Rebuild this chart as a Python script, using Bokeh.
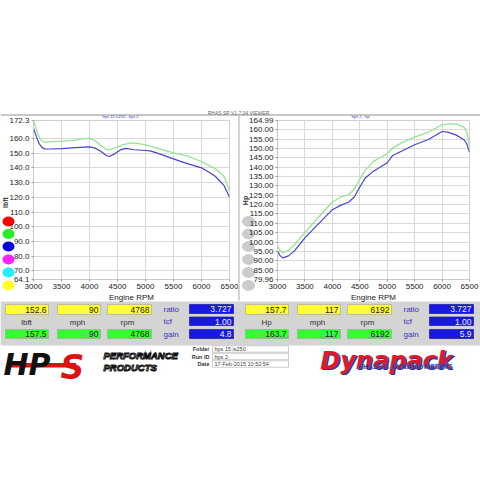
import math
from bokeh.plotting import figure
from bokeh.models import Range1d, FixedTicker, PrintfTickFormatter, GridBox
from bokeh.core.properties import value
from bokeh.embed import file_html
from bokeh.resources import INLINE

# ---------------- data ----------------
rpm_ticks = [3000, 3500, 4000, 4500, 5000, 5500, 6000, 6500]
tq_ticks = [64.1, 70, 80, 90, 100, 110, 120, 130, 140, 150, 160, 172.3]
hp_ticks = [79.96, 85, 90, 95, 100, 105, 110, 115, 120, 125, 130, 135, 140, 145, 150, 155, 160, 164.99]

tq_rpm_base = [3000, 3050, 3100, 3150, 3200, 3300, 3500, 3750, 4000, 4100, 4200, 4300, 4350, 4450,
               4550, 4650, 4800, 5000, 5100, 5250, 5500, 5600, 5750, 6000, 6150, 6250, 6400, 6500]
tq_base = [167.1, 161.5, 156.5, 154.0, 153.0, 152.9, 153.2, 153.8, 154.4, 153.5, 151.4, 148.5, 147.8, 149.6,
           152.3, 153.3, 152.4, 151.9, 151.5, 149.6, 146.2, 144.8, 143.0, 140.1, 136.8, 134.2, 128.2, 120.0]
tq_rpm_gain = [3000, 3050, 3100, 3150, 3200, 3300, 3500, 3750, 3900, 4000, 4100, 4200, 4300, 4350,
               4450, 4600, 4750, 4850, 5000, 5250, 5500, 5750, 6000, 6250, 6400, 6500]
tq_gain = [172.3, 166.6, 161.0, 158.5, 157.5, 157.8, 158.2, 158.9, 159.9, 160.2, 158.6, 155.5, 152.6, 152.3,
           153.5, 155.9, 157.0, 156.8, 155.7, 153.0, 150.3, 148.0, 144.4, 139.4, 134.5, 124.2]

hp_rpm_base = [3000, 3050, 3100, 3200, 3300, 3500, 3750, 4000, 4150, 4300, 4400, 4500, 4600, 4750,
               5000, 5100, 5250, 5500, 5750, 6000, 6100, 6250, 6400, 6450, 6500]
hp_base = [95.2, 92.6, 91.5, 92.6, 95.0, 102.2, 109.8, 117.3, 119.6, 121.4, 124.1, 129.4, 134.2, 137.9,
           142.4, 146.3, 148.4, 152.0, 154.8, 159.1, 158.8, 157.3, 154.7, 152.5, 148.1]
hp_rpm_gain = [3000, 3050, 3100, 3200, 3300, 3500, 3750, 4000, 4150, 4300, 4400, 4500, 4600, 4750,
               5000, 5100, 5250, 5500, 5750, 6000, 6100, 6250, 6400, 6450, 6500]
hp_gain = [98.3, 95.2, 94.3, 95.6, 98.3, 105.0, 113.4, 121.4, 124.1, 125.3, 128.5, 133.5, 138.3, 143.1,
           147.2, 150.2, 152.9, 156.1, 158.8, 162.7, 163.0, 163.2, 161.5, 159.0, 151.1]

left_top_vals = ["152.6", "90", "4768"]
left_bot_vals = ["157.5", "90", "4768"]
left_units = ["lbft", "mph", "rpm"]
right_top_vals = ["157.7", "117", "6192"]
right_bot_vals = ["163.7", "117", "6192"]
right_units = ["Hp", "mph", "rpm"]
factor_names = ["ratio", "tcf", "gain"]
left_factors = ["3.727", "1.00", "4.8"]
right_factors = ["3.727", "1.00", "5.9"]

trace_colors = ["#ff0000", "#22ee22", "#0000dd", "#ff22ff", "#22eeff", "#ffff22"]
info_labels = ["Folder", "Run ID", "Date"]
info_values = ["hps 15 is250", "hps 2", "17-Feb-2015  10:52:54"]

F = value("Liberation Sans")
FD = value("DejaVu Sans")

W = 480
H = 480

# ---------------- background canvas (page pixels) ----------------
bg = figure(width=W, height=H, x_range=Range1d(0, W), y_range=Range1d(H, 0),
            output_backend="svg", toolbar_location=None, x_axis_type=None, y_axis_type=None,
            title=None, min_border=0)
bg.outline_line_color = None
bg.background_fill_color = "white"
bg.border_fill_color = "white"

# top bar and separator
bg.segment(x0=[0], y0=[114.5], x1=[480], y1=[114.5], line_color="#b4b4b4", line_width=1.5)
bg.segment(x0=[238.5], y0=[114], x1=[238.5], y1=[300], line_color="#c4c4c4", line_width=1.5)
bg.text(x=[238], y=[112.3], text=["RHAS SP V1.7.04 VIEWER"], text_font=F, text_font_size="5px",
        text_color="#666666", text_align="center", text_baseline="middle")
bg.text(x=[120, 360], y=[115.8, 115.8], text=["hps 15 is250 - hps 2", "hps 2 - hp"], text_font=F,
        text_font_size="4px", text_color="#3333cc", text_align="center", text_baseline="middle")

# trace selector dots
dot_y = [221, 233.5, 246, 259, 272, 285]
bg.ellipse(x=[8] * 6, y=dot_y, width=12, height=10, fill_color=trace_colors, line_color=None)
bg.ellipse(x=[248] * 6, y=dot_y, width=12, height=10, fill_color="#cccccc", line_color="#b8b8b8",
           line_width=0.6)
bg.text(x=[4.5, 245], y=[202, 200], text=["lbft", "Hp"], angle=math.pi / 2, text_font=F,
        text_font_size="7px", text_font_style="bold", text_color="#333333",
        text_align="center", text_baseline="middle")

# info panel
bg.quad(left=[0], right=[480], top=[301], bottom=[345], fill_color="#d4d4d4", line_color=None)
box_x = [(5, 48), (57, 100), (107, 151)]
for off, top_vals, bot_vals, units, facs in [(0, left_top_vals, left_bot_vals, left_units, left_factors),
                                              (240, right_top_vals, right_bot_vals, right_units, right_factors)]:
    lefts = [a + off for a, b in box_x]
    rights = [b + off for a, b in box_x]
    bg.quad(left=lefts, right=rights, top=[304] * 3, bottom=[314] * 3, fill_color="#ffff33",
            line_color="#a0a0a0", line_width=0.6)
    bg.quad(left=lefts, right=rights, top=[329] * 3, bottom=[338] * 3, fill_color="#33ff33",
            line_color="#a0a0a0", line_width=0.6)
    bg.text(x=[r - 2 for r in rights], y=[309.3] * 3, text=top_vals, text_font=F, text_font_size="8.5px",
            text_color="#222222", text_align="right", text_baseline="middle")
    bg.text(x=[r - 2 for r in rights], y=[333.8] * 3, text=bot_vals, text_font=F, text_font_size="8.5px",
            text_color="#222222", text_align="right", text_baseline="middle")
    bg.text(x=[26 + off, 77 + off, 127 + off], y=[322] * 3, text=units, text_font=F, text_font_size="8px",
            text_color="#333333", text_align="center", text_baseline="middle")
    bg.quad(left=[189 + off] * 3, right=[233 + off] * 3, top=[304, 316.5, 329], bottom=[313, 325, 338],
            fill_color="#1818e0", line_color="#0a0a90", line_width=0.6)
    bg.text(x=[231 + off] * 3, y=[308.8, 321, 333.7], text=facs, text_font=F, text_font_size="8.5px",
            text_color="#f0f0f0", text_align="right", text_baseline="middle")
    bg.text(x=[163 + off] * 3, y=[309, 321, 334], text=factor_names, text_font=F, text_font_size="8px",
            text_color="#3333bb", text_align="left", text_baseline="middle")

# HPS logo
bg.patch(x=[7, 76, 74, 5], y=[362.5, 362.5, 367, 367], fill_color="#dd1111", line_color=None)
bg.text(x=[3], y=[364], text=["HP"], text_font=FD, text_font_size="30px", text_font_style="bold italic",
        text_color="#111111", text_align="left", text_baseline="alphabetic")
bg.text(x=[60], y=[366.5], text=["S"], text_font=FD, text_font_size="33px", text_font_style="bold italic",
        text_color="#e01010", text_align="left", text_baseline="alphabetic")
bg.text(x=[103, 103], y=[355, 367], text=["PERFORMANCE", "PRODUCTS"], text_font=F,
        text_font_size="9.5px", text_font_style="bold italic", text_color="#e8e8e8",
        text_outline_color="#111111", text_align="left", text_baseline="alphabetic")

# run info
bg.text(x=[209] * 3, y=[348.5, 356, 363.5], text=info_labels, text_font=F, text_font_size="5.5px",
        text_font_style="bold", text_color="#333333", text_align="right", text_baseline="middle")
bg.quad(left=[212] * 3, right=[288] * 3, top=[345.3, 352.8, 360.3], bottom=[351.7, 359.2, 366.7],
        fill_color="white", line_color="#aaaaaa", line_width=0.6)
bg.text(x=[214] * 3, y=[348.5, 356, 363.5], text=info_values, text_font=F, text_font_size="5.5px",
        text_color="#444444", text_align="left", text_baseline="middle")

# Dynapack logo
bg.text(x=[387.5], y=[361.5], text=["Dynapack"], text_font=FD, text_font_size="24px",
        text_font_style="bold italic", text_color="#1a3a9a", text_align="center", text_baseline="alphabetic")
bg.text(x=[386], y=[360], text=["Dynapack"], text_font=FD, text_font_size="24px",
        text_font_style="bold italic", text_color="#dd1a2a", text_align="center", text_baseline="alphabetic")
bg.text(x=[405], y=[366.5], text=["CHASSIS DYNAMOMETERS"], text_font=FD, text_font_size="6.5px",
        text_font_style="bold", text_color="#2a4aaa", text_align="center", text_baseline="middle")


# ---------------- charts ----------------
def make_chart(w, bl, br, xb, yb, xg, yg, yticks, fmt):
    p = figure(width=w, height=192, title=None, x_range=Range1d(3000, 6500),
               y_range=Range1d(yticks[0], yticks[-1]), output_backend="svg", toolbar_location=None,
               min_border_left=bl, min_border_right=br, min_border_top=8, min_border_bottom=25)
    p.border_fill_color = None
    p.background_fill_color = "white"
    p.outline_line_color = "#d0d0d0"
    p.xaxis.ticker = FixedTicker(ticks=rpm_ticks)
    p.yaxis.ticker = FixedTicker(ticks=yticks)
    p.yaxis.formatter = PrintfTickFormatter(format=fmt)
    for ax in (p.xaxis[0], p.yaxis[0]):
        ax.major_label_text_font = "Liberation Sans"
        ax.major_label_text_font_size = "8px"
        ax.major_label_text_color = "#222222"
        ax.axis_line_color = "#c8c8c8"
        ax.major_tick_line_color = "#999999"
        ax.major_tick_in = 0
        ax.major_tick_out = 2
        ax.major_label_standoff = 2
    p.xaxis.axis_label = "Engine RPM"
    p.xaxis.axis_label_text_font = "Liberation Sans"
    p.xaxis.axis_label_text_font_size = "8px"
    p.xaxis.axis_label_text_font_style = "normal"
    p.xaxis.axis_label_text_color = "#222222"
    p.xaxis.axis_label_standoff = 1
    p.xgrid.grid_line_color = "#d8d8d8"
    p.ygrid.grid_line_color = "#d8d8d8"
    p.line(xg, yg, line_color="#96e296", line_width=1.3)
    p.line(xb, yb, line_color="#4646cc", line_width=1.2)
    return p


left = make_chart(238, 33, 9, tq_rpm_base, tq_base, tq_rpm_gain, tq_gain, tq_ticks, "%.1f")
right = make_chart(242, 39, 11, hp_rpm_base, hp_base, hp_rpm_gain, hp_gain, hp_ticks, "%.2f")

# zero-width edge tracks keep the background from being frame-aligned with the charts
layout = GridBox(children=[(bg, 0, 0, 3, 4), (left, 1, 1), (right, 1, 2)],
                 rows=["112px", "192px", "176px"], cols=["0px", "238px", "242px", "0px"])

open("out.html", "w").write(file_html(layout, INLINE))
